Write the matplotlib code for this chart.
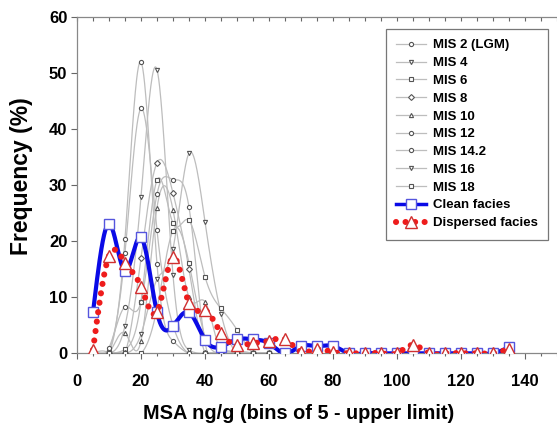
import numpy as np
import matplotlib as mpl
mpl.use("Agg")
import matplotlib.pyplot as plt
from matplotlib.lines import Line2D
from matplotlib.ticker import MultipleLocator, NullFormatter

plt.rcParams['font.family'] = ['Liberation Sans', 'DejaVu Sans']
plt.rcParams['font.weight'] = 'bold'

# MIS stages, frequency (%) per 5 ng/g bin (upper limit 5..60)
mis_x = [5, 10, 15, 20, 25, 30, 35, 40, 45, 50, 55, 60]
mis_labels = ['MIS 2 (LGM)', 'MIS 4', 'MIS 6', 'MIS 8', 'MIS 10',
              'MIS 12', 'MIS 14.2', 'MIS 16', 'MIS 18']
mis_markers = ['o', 'v', 's', 'D', '^', 'o', 'o', 'v', 's']
mis2 = [0, 0, 20.4, 52.0, 16.0, 2.2, 0, 0, 0, 0, 0, 0]
mis4 = [0, 0, 4.9, 27.9, 50.6, 14.0, 0.6, 0, 0, 0, 0, 0]
mis6 = [0, 0, 0.7, 9.2, 30.9, 23.2, 23.7, 13.7, 8.0, 4.2, 0, 0]
mis8 = [0, 0, 0, 17.0, 34.0, 28.6, 15.0, 0, 0, 0, 0, 0]
mis10 = [0, 0, 3.6, 2.2, 26.0, 25.6, 10.0, 9.2, 0, 0, 0, 0]
mis12 = [0, 0.5, 17.9, 43.7, 22.0, 5.0, 0, 0, 0, 0, 0, 0]
mis14 = [0, 1.0, 8.3, 9.2, 28.4, 31.0, 26.1, 2.0, 0, 0, 0, 0]
mis16 = [0, 0, 0, 3.4, 13.2, 18.6, 35.7, 23.5, 7.1, 0, 0, 0]
mis18 = [0, 0, 0, 0, 8.0, 21.9, 16.1, 3.0, 0, 0, 0, 0]
mis_values = [mis2, mis4, mis6, mis8, mis10, mis12, mis14, mis16, mis18]

# facies, bins 5..135
facies_x = list(range(5, 140, 5))
clean = [7.3, 23.1, 14.7, 20.7, 7.3, 4.9, 7.3, 2.4, 1.2, 2.5, 2.5, 1.8, 0,
         1.3, 1.3, 1.3, 0, 0, 0, 0, 0, 0, 0, 0, 0, 0, 1.1]
dispersed = [0.6, 17.4, 16.2, 11.9, 7.4, 17.1, 8.9, 7.7, 3.6, 1.5, 1.8, 2.2,
             2.5, 0.3, 0.7, 0.2, 0, 0, 0, 0, 1.5, 0, 0, 0, 0, 0, 0.8]


def spline(x, y, n=400):
    # natural cubic spline for the smooth curves
    x = np.asarray(x, float)
    y = np.asarray(y, float)
    m = len(x)
    h = np.diff(x)
    A = np.zeros((m, m))
    b = np.zeros(m)
    A[0, 0] = A[-1, -1] = 1
    for i in range(1, m - 1):
        A[i, i - 1] = h[i - 1]
        A[i, i] = 2 * (h[i - 1] + h[i])
        A[i, i + 1] = h[i]
        b[i] = 3 * ((y[i + 1] - y[i]) / h[i] - (y[i] - y[i - 1]) / h[i - 1])
    c = np.linalg.solve(A, b)
    xs = np.linspace(x[0], x[-1], n)
    idx = np.clip(np.searchsorted(x, xs) - 1, 0, m - 2)
    dx = xs - x[idx]
    bc = (y[1:] - y[:-1]) / h - h * (2 * c[:-1] + c[1:]) / 3
    d = (c[1:] - c[:-1]) / (3 * h)
    ys = y[idx] + bc[idx] * dx + c[idx] * dx**2 + d[idx] * dx**3
    return xs, ys


fig = plt.figure(figsize=(5.57, 4.33), dpi=100)
ax = fig.add_axes([0.1382, 0.184, 0.8618, 0.7767])

grey = '#bdbdbd'
handles = []
for vals, lab, mk in zip(mis_values, mis_labels, mis_markers):
    xs, ys = spline(mis_x, vals)
    ax.plot(xs, ys, color=grey, lw=0.9, zorder=2)
    ax.plot(mis_x, vals, ls='none', marker=mk, ms=3, mfc='white',
            mec='#555555', mew=0.8, zorder=3)
    handles.append(Line2D([], [], color=grey, lw=0.9, marker=mk, ms=3,
                          mfc='white', mec='#555555', mew=0.8))

blue = '#0a0ae6'
xs, ys = spline(facies_x, clean, 1200)
ax.plot(xs, ys, color=blue, lw=3, zorder=4)
ax.plot(facies_x, clean, ls='none', marker='s', ms=6.5, mfc='white',
        mec='#5555dd', mew=1, zorder=5)
handles.append(Line2D([], [], color=blue, lw=2.5, marker='s', ms=6.5,
                      mfc='white', mec='#5555dd', mew=1))

red = '#ee1c1c'
dots = (0, (0.01, 1.55))
xs, ys = spline(facies_x, dispersed, 1200)
ax.plot(xs, ys, color=red, lw=4.4, ls=dots, dash_capstyle='round', zorder=6)
ax.plot(facies_x, dispersed, ls='none', marker='^', ms=8, mfc='white',
        mec='#d03030', mew=1, zorder=7)
handles.append(Line2D([], [], color=red, lw=4.4, ls=dots,
                      dash_capstyle='round', marker='^', ms=8,
                      mfc='white', mec='#d03030', mew=1))

ax.set_xlim(0, 150)
ax.set_ylim(0, 60)
ax.xaxis.set_major_locator(MultipleLocator(20))
ax.xaxis.set_minor_locator(MultipleLocator(5))
ax.yaxis.set_major_locator(MultipleLocator(10))
ax.tick_params(axis='both', which='major', labelsize=12, direction='out',
               length=4, width=0.8, color='#666666', pad=3)
ax.tick_params(axis='x', which='minor', direction='out', length=2.5,
               width=0.8, color='#666666')
ax.tick_params(axis='x', which='major', pad=11)
ax.spines['right'].set_visible(False)
for s in ['top', 'bottom', 'left']:
    ax.spines[s].set_color('#888888')
    ax.spines[s].set_linewidth(0.9)

# inward ticks along the top frame
top = ax.secondary_xaxis('top')
top.xaxis.set_major_locator(MultipleLocator(5))
top.xaxis.set_major_formatter(NullFormatter())
top.tick_params(direction='in', length=3, width=0.8, color='#666666')
top.spines['top'].set_visible(False)

ax.set_xlabel('MSA ng/g (bins of 5 - upper limit)', fontsize=14.3,
              fontweight='bold')
ax.xaxis.set_label_coords(0.461, -0.15)
ax.set_ylabel('Frequency (%)', fontsize=16.5, fontweight='bold')
ax.yaxis.set_label_coords(-0.092, 0.527)

leg = ax.legend(handles, mis_labels + ['Clean facies', 'Dispersed facies'],
                loc='upper right', bbox_to_anchor=(0.996, 0.985),
                prop={'weight': 'bold', 'size': 9.5},
                numpoints=1, handlelength=2.3, handletextpad=0.5,
                labelspacing=0.42, borderpad=0.8, fancybox=False,
                framealpha=1)
leg.get_frame().set_edgecolor('#777777')
leg.get_frame().set_linewidth(0.9)

plt.savefig('out.png', dpi=100)
